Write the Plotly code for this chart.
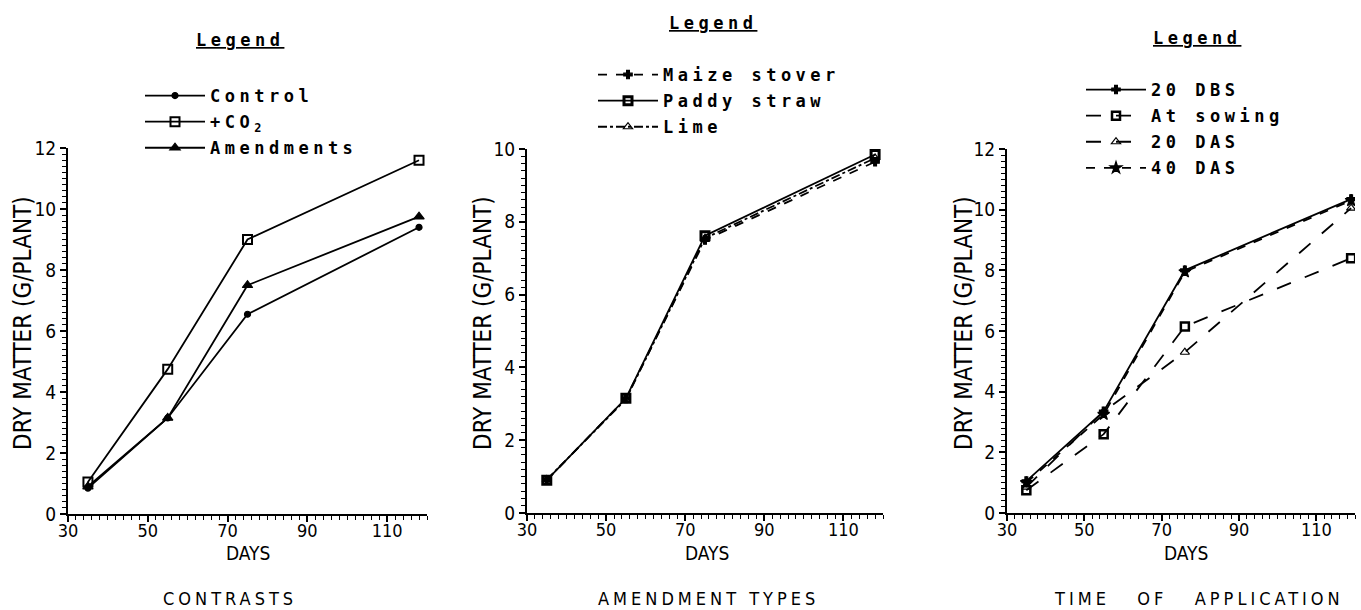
import plotly.graph_objects as go

# ---------------- data ----------------
days = [35, 55, 75, 118]
days_time = [35, 55, 76, 119]

# Panel 1: contrasts
control = [0.85, 3.15, 6.55, 9.40]
plus_co2 = [1.05, 4.75, 9.00, 11.60]
amendments = [0.90, 3.15, 7.50, 9.75]

# Panel 2: amendment types
maize_stover = [0.90, 3.15, 7.50, 9.65]
paddy_straw = [0.90, 3.15, 7.62, 9.85]
lime = [0.92, 3.12, 7.55, 9.75]

# Panel 3: time of application
dbs20 = [1.05, 3.35, 8.00, 10.35]
at_sowing = [0.75, 2.60, 6.15, 8.40]
das20 = [0.85, 3.35, 5.30, 10.05]
das40 = [1.00, 3.25, 7.95, 10.30]

x_ticks = [30, 50, 70, 90, 110]
y_ticks_12 = [0, 2, 4, 6, 8, 10, 12]
y_ticks_10 = [0, 2, 4, 6, 8, 10]

x_title = "DAYS"
y_title = "DRY MATTER (G/PLANT)"
captions = ["CONTRASTS", "AMENDMENT TYPES", "TIME\u00a0\u00a0\u00a0OF\u00a0\u00a0\u00a0APPLICATION"]

W, H = 1361, 610
TICKFONT = "Liberation Sans Narrow, DejaVu Sans Condensed, Liberation Sans, Arial, sans-serif"
MONO = "DejaVu Sans Mono, Liberation Mono, monospace"


def sp(t, ls=4.5):
    return f'<span style="letter-spacing:{ls}px">{t}</span>'


fig = go.Figure()


def add(xa, ya, x, y, name, symbol, size, dash, legend, group, mline=1.2):
    fig.add_trace(go.Scatter(
        x=x, y=y, mode="lines+markers", name=name,
        xaxis=xa, yaxis=ya, legend=legend, legendgroup=group,
        line=dict(color="black", width=1.8, dash=dash),
        marker=dict(symbol=symbol, size=size, color="black",
                    line=dict(color="black", width=mline)),
        hoverinfo="x+y+name",
    ))


add("x", "y", days, control, sp("Control"), "circle", 6, "solid", "legend", "a1")
add("x", "y", days, plus_co2, sp("+CO<sub>2</sub>"), "square-open", 9, "solid", "legend", "a2", 2)
add("x", "y", days, amendments, sp("Amendments"), "triangle-up", 9, "solid", "legend", "a3")

add("x2", "y2", days, maize_stover, sp("Maize stover"), "cross", 7, "dash", "legend2", "b1")
add("x2", "y2", days, paddy_straw, sp("Paddy straw"), "square-open", 8, "solid", "legend2", "b2", 3)
add("x2", "y2", days, lime, sp("Lime"), "triangle-up-open", 8, "dashdot", "legend2", "b3")

add("x3", "y3", days_time, dbs20, sp("20 DBS"), "cross", 7, "solid", "legend3", "c1")
add("x3", "y3", days_time, at_sowing, sp("At sowing"), "square-open", 8, "longdash", "legend3", "c2", 2.5)
add("x3", "y3", days_time, das20, sp("20 DAS"), "triangle-up-open", 8, "longdash", "legend3", "c3")
add("x3", "y3", days_time, das40, sp("40 DAS"), "star", 9, "dash", "legend3", "c4")


def px_x(p):
    return p / W


def px_y(p):
    return 1 - p / H


def xaxis(dom, anchor):
    return dict(
        domain=dom, anchor=anchor, range=[30, 120], tickvals=x_ticks,
        showline=True, linecolor="black", linewidth=2, automargin=False,
        ticks="outside", ticklen=6, tickwidth=1.5, tickcolor="black",
        ticklabelstandoff=-7,
        minor=dict(dtick=2, tick0=30, ticks="outside", ticklen=4, tickwidth=1.2, tickcolor="black"),
        showgrid=False, zeroline=False,
        tickfont=dict(family=TICKFONT, size=18, color="black"),
    )


def yaxis(dom, anchor, top, tv):
    return dict(
        domain=dom, anchor=anchor, range=[0, top], tickvals=tv,
        showline=True, linecolor="black", linewidth=2, automargin=False,
        ticks="outside", ticklen=6, tickwidth=1.5, tickcolor="black",
        minor=dict(dtick=0.2, tick0=0, ticks="outside", ticklen=4, tickwidth=1.2, tickcolor="black"),
        showgrid=False, zeroline=False,
        tickfont=dict(family=TICKFONT, size=19, color="black"),
    )


leg_common = dict(
    xanchor="left", yanchor="top", bgcolor="rgba(0,0,0,0)",
    font=dict(family=MONO, size=17, color="black", weight="bold"),
    tracegroupgap=1, itemwidth=60, itemclick=False, itemdoubleclick=False,
)

fig.update_layout(
    width=W, height=H, autosize=False,
    margin=dict(l=0, r=0, t=0, b=0),
    paper_bgcolor="white", plot_bgcolor="white",
    xaxis=xaxis([px_x(68), px_x(427)], "y"),
    yaxis=yaxis([px_y(514), px_y(148)], "x", 12, y_ticks_12),
    xaxis2=xaxis([px_x(527), px_x(883)], "y2"),
    yaxis2=yaxis([px_y(513), px_y(149)], "x2", 10, y_ticks_10),
    xaxis3=xaxis([px_x(1007), px_x(1355)], "y3"),
    yaxis3=yaxis([px_y(513), px_y(149)], "x3", 12, y_ticks_12),
    legend=dict(x=px_x(140), y=px_y(78), **leg_common),
    legend2=dict(x=px_x(593), y=px_y(57), **leg_common),
    legend3=dict(x=px_x(1081), y=px_y(72), **leg_common),
    showlegend=True,
)

# "Legend" headings
for cx, cy in [(240, 40), (713, 23), (1197, 38)]:
    fig.add_annotation(
        x=px_x(cx), y=px_y(cy), xref="paper", yref="paper", showarrow=False,
        text="<u>" + sp("Legend", 4.5) + "</u>",
        font=dict(family=MONO, size=17, color="black", weight="bold"),
        xanchor="center", yanchor="middle",
    )

# axis titles
for cx in [23, 483, 964]:
    fig.add_annotation(
        x=px_x(cx), y=px_y(323), xref="paper", yref="paper", showarrow=False,
        text=y_title, textangle=-90,
        font=dict(family=TICKFONT, size=24, color="black"),
        xanchor="center", yanchor="middle",
    )
for cx in [248, 707, 1186]:
    fig.add_annotation(
        x=px_x(cx), y=px_y(553), xref="paper", yref="paper", showarrow=False,
        text=x_title, font=dict(family=TICKFONT, size=19, color="black"),
        xanchor="center", yanchor="middle",
    )

# captions
for cx, txt in zip([230, 708, 1199], captions):
    fig.add_annotation(
        x=px_x(cx), y=px_y(598), xref="paper", yref="paper", showarrow=False,
        text=sp(txt, 4), font=dict(family=TICKFONT, size=18, color="black"),
        xanchor="center", yanchor="middle",
    )

fig.write_html("out.html")
